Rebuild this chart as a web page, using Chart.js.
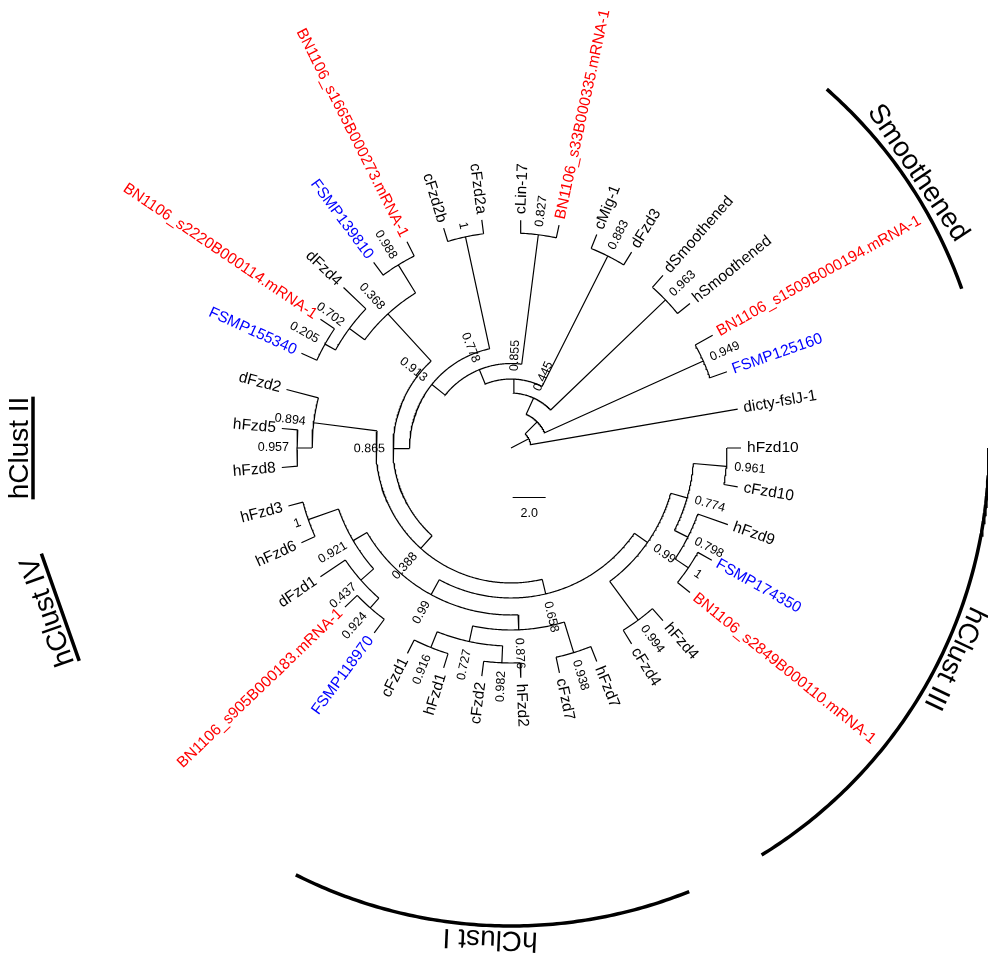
<!DOCTYPE html>
<html lang="en">
<head>
<meta charset="UTF-8">
<title>Frizzled / Smoothened tree</title>
<script src="https://cdn.jsdelivr.net/npm/chart.js"></script>
<style>
  body { margin: 0; background: #fff; }
  #tree { display: block; }
</style>
</head>
<body>
<canvas id="tree" width="988" height="957"></canvas>
<script>
// Tree (Newick), branch lengths in tree units, support values as node labels.
// Tips are listed counter-clockwise starting from dicty-fslJ-1.
const newick = `(dicty-fslJ-1:12.73,
 ((FSMP125160:1.09,BN1106_s1509B000194.mRNA-1:1.21)0.949:10.55,
  ((hSmoothened:0.97,dSmoothened:0.97)0.963:9.64,
   ((dFzd3:0.91,cMig-1:0.91)0.883:8.85,
    ((BN1106_s33B000335.mRNA-1:0.79,cLin-17:0.79)0.827:7.91,
     ((cFzd2a:0.85,cFzd2b:0.85)1:6.94,
      (((BN1106_s1665B000273.mRNA-1:0.97,FSMP139810:0.97)0.988:2.0,
        (dFzd4:1.88,(BN1106_s2220B000114.mRNA-1:1.03,FSMP155340:1.03)0.205:0.73)0.702:1.15)0.368:3.88,
       ((dFzd2:2.0,(hFzd5:0.97,hFzd8:0.97)0.957:0.91)0.894:3.88,
        ((((hFzd3:0.91,hFzd6:0.91)1:1.94,
           (dFzd1:1.82,(BN1106_s905B000183.mRNA-1:1.03,FSMP118970:1.03)0.924:0.79)0.437:1.03)0.921:0.97,
          (((cFzd1:0.91,hFzd1:0.91)0.916:1.03,(cFzd2:0.91,hFzd2:0.91)0.982:1.03)0.727:0.97,
           (cFzd7:0.97,hFzd7:0.97)0.938:1.94)0.876:0.91)0.99:1.03,
         ((cFzd4:0.97,hFzd4:0.97)0.994:2.91,
          (((BN1106_s2849B000110.mRNA-1:0.97,FSMP174350:0.97)1:0.97,hFzd9:1.94)0.798:0.91,
           (cFzd10:0.85,hFzd10:0.85)0.961:2.0)0.774:1.03)0.99:0.97)0.658:0.91)0.388:1.03)0.865:1.0)0.913:1.03)0.778:0.94)0.855:0.85)0.445:1.09):1.03):1.21;`;

// clade annotations (tip where each bracket starts and ends, counter-clockwise)
const cladeNames = ["Smoothened", "hClust II", "hClust IV", "hClust I", "hClust III"];
const cladeFirst = ["FSMP125160", "hFzd5", "hFzd3", "cFzd1", "cFzd4"];
const cladeLast = ["dSmoothened", "hFzd8", "hFzd6", "hFzd7", "hFzd10"];
const cladeUnderlined = [false, true, true, false, false];

const scaleBarLength = 2.0;

// layout
const W = 988, H = 957;
const CX = 511, CY = 448;        // root position in px
const PX = 16.5;                 // px per tree unit
const CLADE_R = 478 / PX;        // clade arc radius
const CLADE_TEXT_R = 491 / PX;
const CLADE_TEXT_SHIFT = { "hClust III": 3.8 };   // degrees, label not centred on its bracket
const FONT = '"Liberation Sans", Arial, Helvetica, sans-serif';

function parseNewick(src) {
  const s = src.replace(/\s+/g, "");
  let i = 0;
  function node() {
    const n = { children: [], name: "", len: 0 };
    if (s[i] === "(") {
      i++;
      n.children.push(node());
      while (s[i] === ",") { i++; n.children.push(node()); }
      i++;
    }
    while (i < s.length && !",):;".includes(s[i])) n.name += s[i++];
    if (s[i] === ":") {
      i++;
      let num = "";
      while (i < s.length && !",);".includes(s[i])) num += s[i++];
      n.len = parseFloat(num);
    }
    return n;
  }
  return node();
}

const tree = parseNewick(newick);
const tips = [];
function setDepth(n, d) {
  n.r = d + n.len;
  if (!n.children.length) { tips.push(n); return; }
  n.children.forEach(c => setDepth(c, n.r));
}
setDepth(tree, 0);
const step = 360 / tips.length;
tips.forEach((t, k) => { t.deg = step * (k + 1); });
function setAngle(n) {
  if (!n.children.length) return;
  n.children.forEach(setAngle);
  n.deg = (n.children[0].deg + n.children[n.children.length - 1].deg) / 2;
}
setAngle(tree);

const rad = d => d * Math.PI / 180;
const pol = (r, d) => ({ x: r * Math.cos(rad(d)), y: r * Math.sin(rad(d)) });
function arc(r, d0, d1) {
  const n = Math.max(2, Math.ceil(Math.abs(d1 - d0) / 0.5));
  const pts = [];
  for (let k = 0; k <= n; k++) pts.push(pol(r, d0 + (d1 - d0) * k / n));
  return pts;
}

// branch polylines, broken with null points
const branchPts = [];
const brk = { x: null, y: null };
branchPts.push(pol(0, tree.deg), pol(tree.r, tree.deg), brk);
const internal = [];
(function walk(n) {
  if (!n.children.length) return;
  internal.push(n);
  const first = n.children[0], last = n.children[n.children.length - 1];
  branchPts.push(...arc(n.r, first.deg, last.deg), brk);
  n.children.forEach(c => {
    branchPts.push(pol(n.r, c.deg), pol(c.r, c.deg), brk);
    walk(c);
  });
})(tree);

const tipByName = {};
tips.forEach(t => { tipByName[t.name] = t; });
function cladeSpan(k) {
  const a = tipByName[cladeFirst[k]].deg;
  let b = tipByName[cladeLast[k]].deg;
  if (b < a) b += 360;
  return [a, b];
}
const cladeArcPts = [];
cladeNames.forEach((c, k) => {
  if (cladeUnderlined[k]) return;
  const [a, b] = cladeSpan(k);
  cladeArcPts.push(...arc(CLADE_R, a, b), brk);
});

const barAt = { x: 0.1, y: -3.0 };
const scaleBarPts = [barAt, { x: barAt.x + scaleBarLength, y: barAt.y }];

function tipColor(name) {
  if (name.startsWith("BN1106")) return "#ff0000";
  if (name.startsWith("FSMP")) return "#0000ff";
  return "#000000";
}

const treeLabels = {
  id: "treeLabels",
  afterDatasetsDraw(chart) {
    const { ctx } = chart;
    const xs = chart.scales.x, ys = chart.scales.y;
    const toPx = p => [xs.getPixelForValue(p.x), ys.getPixelForValue(p.y)];

    function radialText(text, r, deg, pad, font, color) {
      const [X, Y] = toPx(pol(r, deg));
      const right = Math.cos(rad(deg)) > 0;
      ctx.save();
      ctx.translate(X, Y);
      ctx.rotate(right ? -rad(deg) : Math.PI - rad(deg));
      ctx.font = font;
      ctx.fillStyle = color;
      ctx.textAlign = right ? "left" : "right";
      ctx.textBaseline = "middle";
      ctx.fillText(text, right ? pad : -pad, 0);
      ctx.restore();
    }

    tips.forEach(t => radialText(t.name, t.r, t.deg, 6, "15.5px " + FONT, tipColor(t.name)));
    internal.forEach(n => {
      if (n.name) radialText(n.name, n.r, n.deg, 8, "12.5px " + FONT, "#000");
    });

    // clade names, written along the circle, top of letters facing outwards
    cladeNames.forEach((name, k) => {
      const [a, b] = cladeSpan(k);
      const mid = (a + b) / 2 + (CLADE_TEXT_SHIFT[name] || 0);
      const [X, Y] = toPx(pol(CLADE_TEXT_R, mid));
      ctx.save();
      ctx.translate(X, Y);
      ctx.rotate(rad(90 - mid));
      ctx.font = "28px " + FONT;
      ctx.fillStyle = "#000";
      ctx.textAlign = "center";
      ctx.textBaseline = "middle";
      ctx.fillText(name, 0, 0);
      if (cladeUnderlined[k]) {
        const w = ctx.measureText(name).width;
        const off = (CLADE_TEXT_R - CLADE_R) * PX;
        ctx.beginPath();
        ctx.moveTo(-w / 2, off);
        ctx.lineTo(w / 2, off);
        ctx.lineWidth = 3.5;
        ctx.strokeStyle = "#000";
        ctx.stroke();
      }
      ctx.restore();
    });

    const [bx, by] = toPx({ x: barAt.x + scaleBarLength / 2, y: barAt.y });
    ctx.save();
    ctx.font = "12.5px " + FONT;
    ctx.fillStyle = "#000";
    ctx.textAlign = "center";
    ctx.textBaseline = "middle";
    ctx.fillText(scaleBarLength.toFixed(1), bx, by + 16);
    ctx.restore();
  }
};

const lineSet = (data, width) => ({
  data, showLine: true, borderColor: "#000", borderWidth: width,
  pointRadius: 0, fill: false, spanGaps: false, tension: 0
});

new Chart(document.getElementById("tree"), {
  type: "scatter",
  data: {
    datasets: [
      lineSet(branchPts, 1.2),
      lineSet(cladeArcPts, 3.5),
      lineSet(scaleBarPts, 1.2)
    ]
  },
  options: {
    responsive: false,
    animation: false,
    devicePixelRatio: 1,
    events: [],
    layout: { padding: 0 },
    plugins: { legend: { display: false }, tooltip: { enabled: false } },
    scales: {
      x: { type: "linear", display: false, min: -CX / PX, max: (W - CX) / PX },
      y: { type: "linear", display: false, min: -(H - CY) / PX, max: CY / PX }
    }
  },
  plugins: [treeLabels]
});
</script>
</body>
</html>
